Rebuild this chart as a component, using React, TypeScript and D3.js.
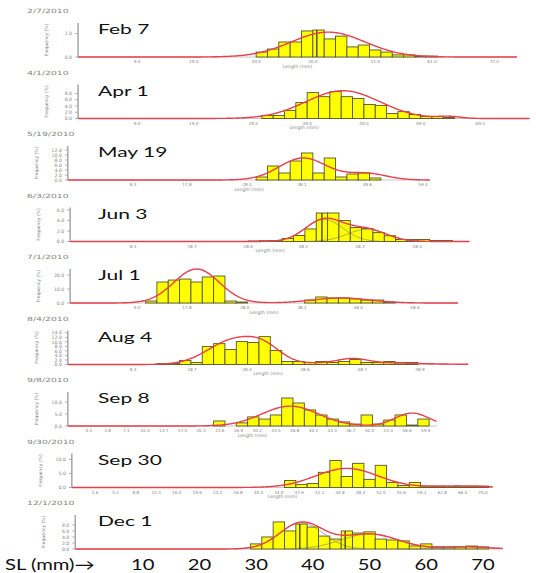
import React from "react";
import * as d3 from "d3";

// ---------- data ----------
const dateLabels = ["2/7/2010", "4/1/2010", "5/19/2010", "6/3/2010", "7/1/2010", "8/4/2010", "9/8/2010", "9/30/2010", "12/1/2010"];
const panelLabels = ["Feb 7", "Apr 1", "May 19", "Jun 3", "Jul 1", "Aug 4", "Sep 8", "Sep 30", "Dec 1"];

// first bin (mm) of each histogram, 2 mm bins
const binStart = [30, 31, 30, 28.6, 10.5, 12.5, 22.5, 35, 29];

const freqFeb7 = [0.21, 0.34, 0.64, 0.64, 1.11, 1.15, 0.77, 0.89, 0.43, 0.51, 0.3, 0.21, 0.09, 0.09, 0.04, 0.04];
const freqApr1 = [1.0, 1.0, 2.6, 5.1, 8.3, 7.0, 8.6, 7.0, 6.4, 4.5, 4.2, 1.6, 2.2, 1.3, 0.6, 0.6, 0.3];
const freqMay19 = [1.2, 5.6, 2.8, 7.6, 10.8, 2.8, 8.8, 1.2, 2.4, 2.8, 0.8];
const freqJun3 = [0.1, 0.15, 0.19, 0.57, 1.14, 2.4, 5.45, 5.45, 4.0, 2.66, 2.5, 1.7, 1.1, 0.4, 0.38, 0.38, 0.2, 0.2];
const freqJul1 = [1.4, 15, 16.4, 17.1, 15, 18.6, 19.3, 1.4, 0.7, 0, 0, 0, 0, 0, 2.1, 4.3, 3.6, 3.6, 2.9, 2.1, 2.1, 0.7];
const freqAug4 = [0.4, 0.4, 1.8, 0.9, 7.9, 9.2, 6.6, 10.1, 9.7, 12.3, 6.2, 1.3, 1.3, 0.9, 1.3, 0.9, 1.3, 2.2, 0.9, 0.9, 1.3, 0.9, 0.9];
const freqSep8 = [2.1, 0, 1.3, 3.8, 2.9, 4.6, 11.7, 9.6, 6.7, 4.6, 2.9, 1.7, 0.8, 4.6, 0.8, 2.5, 4.6, 0.4, 2.9];
const freqSep30 = [2.5, 1.1, 1.4, 5.4, 9.6, 3.9, 8.6, 2.9, 7.9, 1.8, 0.7, 1.8, 0.5, 0.5, 0.5, 0.5, 0.5, 0.5];
const freqDec1 = [1.7, 4, 9, 6, 8.3, 7.3, 4.3, 3.3, 6, 5.3, 5.7, 3.3, 3, 2.7, 1, 1.7, 0.7, 0.7, 0.7, 1, 0.7];

// fitted normal components: [mean mm, sd mm, height]
const fitFeb7 = [[42.7, 6.5, 1.06]];
const fitApr1 = [[45.3, 6.5, 8.9], [64, 2, 0.6]];
const fitMay19 = [[38.3, 4.2, 8.8], [49.5, 3.5, 2.6]];
const fitJun3 = [[42, 3.3, 4.2], [49.5, 3.5, 2.3]];
const fitJul1 = [[19.5, 4, 24.3], [45, 5, 3.6]];
const fitAug4 = [[26, 4.5, 10.6], [31.5, 3, 5.3], [47, 2.5, 1.8], [48, 9, 0.9]];
const fitSep8 = [[36, 5, 8.3], [57.5, 3, 5.4]];
const fitSep30 = [[46, 5.5, 6.8], [66, 5, 0.5]];
const fitDec1 = [[38, 3.8, 8.7], [50, 5, 5], [67, 4, 0.7]];

// mean markers: [mm, height]
const meanFeb7 = [[40.7, 1.15]];
const meanJun3 = [[41.6, 5.45]];
const meanDec1 = [[37.7, 8.3], [45.7, 6]];

// axis extents (mm) of each panel
const xMinMM = [-1.4, -1.4, -3.2, -2.8, -2.8, -3.2, -3.2, -2.5, -1.9];
const xMaxMM = [76, 78.3, 60.7, 67.7, 65.6, 67.4, 61.9, 71.8, 73.5];
const yMaxVal = [1.45, 10.9, 13.6, 6.5, 24.3, 15, 14.2, 12.1, 11.3];

const yTicksAll = [
  [0, 1], [0, 2, 4, 6, 8], [0, 2, 4, 6, 8, 10, 12], [0, 2, 4, 6], [0, 10, 20],
  [0, 2, 4, 6, 8, 10, 12, 14], [0, 5, 10], [0, 5, 10], [0, 2, 4, 6, 8],
];
const xTicksAll = [
  [9, 19, 30, 40, 51, 61, 72],
  [9, 19, 29.5, 39, 49, 59, 69.5],
  [8.3, 17.8, 28.4, 38.1, 49.6, 59.4],
  [8.3, 18.7, 28.6, 38.3, 48.3, 58.4],
  [9, 17.8, 28, 38.1, 48, 58],
  [8.3, 18.7, 28.4, 38.6, 48.7, 58.9],
  [0.5, 3.8, 7.1, 10.4, 13.7, 17, 20.3, 23.6, 26.9, 30.2, 33.5, 36.8, 40.1, 43.4, 46.7, 50, 53.3, 56.6, 59.9],
  [1.6, 5.2, 8.8, 12.4, 16, 19.6, 23.2, 26.8, 30.4, 34, 37.6, 41.2, 44.8, 48.4, 52, 55.6, 59.2, 62.8, 66.4, 70],
  [],
];

const bottomTicks = [10, 20, 30, 40, 50, 60, 70];

const freqs = [freqFeb7, freqApr1, freqMay19, freqJun3, freqJul1, freqAug4, freqSep8, freqSep30, freqDec1];
const fits = [fitFeb7, fitApr1, fitMay19, fitJun3, fitJul1, fitAug4, fitSep8, fitSep30, fitDec1];
const means = [meanFeb7, [], [], meanJun3, [], [], [], [], meanDec1];
const showComponents = [false, false, false, true, false, false, false, false, true];

// ---------- layout ----------
const W = 536;
const H = 573;
const PH = 34;
const BIN = 2;
const xMM = d3.scaleLinear().domain([0, 70]).range([86, 483]);
const baseY = (i: number) => 57 + 61.5 * i;

function mix(comps: number[][], v: number) {
  return d3.sum(comps, (c) => c[2] * Math.exp(-0.5 * ((v - c[0]) / c[1]) ** 2));
}

const TINY = "DejaVu Sans, sans-serif";
const TXT = "#858585";

export default function App() {
  return (
    <svg width={W} height={H} style={{ position: "absolute", left: 0, top: 0 }}>
      <rect width={W} height={H} fill="#fff" />
      {panelLabels.map((lab, i) => {
        const y = d3.scaleLinear().domain([0, yMaxVal[i]]).range([PH, 0]);
        const x0 = xMM(xMinMM[i]);
        const x1 = xMM(xMaxMM[i]);
        const xs = d3.range(xMinMM[i], xMaxMM[i] + 0.001, 0.2);
        const line = d3.line<number>().x((v) => xMM(v)).y((v) => y(mix(fits[i], v)));
        const compLines = showComponents[i] ? fits[i] : [];
        return (
          <g key={i} transform={`translate(0,${baseY(i) - PH})`}>
            <text transform={`translate(27,${PH - 44}) scale(1.6,1)`} fontFamily={TINY} fontSize={5.8} fill={TXT}>
              {dateLabels[i]}
            </text>
            <text
              transform={`translate(${x0 - 30},${PH / 2}) rotate(-90)`}
              textAnchor="middle"
              fontFamily={TINY}
              fontSize={4.5}
              fill={TXT}
            >
              Frequency (%)
            </text>
            <line x1={x0} x2={x0} y1={0} y2={PH} stroke="#a0a0a0" strokeWidth={1.4} />
            {yTicksAll[i].map((t) => (
              <g key={t}>
                <line x1={x0 - 3} x2={x0} y1={y(t)} y2={y(t)} stroke="#a0a0a0" strokeWidth={0.8} />
                <text x={x0 - 6} y={y(t) + 1.7} textAnchor="end" fontFamily={TINY} fontSize={4.6} fill={TXT}>
                  {t.toFixed(1)}
                </text>
              </g>
            ))}
            <line x1={x0} x2={x1} y1={PH} y2={PH} stroke="#c8c8c8" strokeWidth={1} />
            {freqs[i].map((v, j) =>
              v > 0 ? (
                <rect
                  key={j}
                  x={xMM(binStart[i] + j * BIN)}
                  width={xMM(binStart[i] + (j + 1) * BIN) - xMM(binStart[i] + j * BIN)}
                  y={y(v)}
                  height={PH - y(v)}
                  fill="#ffff00"
                  stroke="#55552a"
                  strokeWidth={0.9}
                />
              ) : null
            )}
            {compLines.map((c, k) => (
              <path
                key={k}
                d={
                  d3.line<number>().x((v) => xMM(v)).y((v) => y(mix([c], v)))(
                    d3.range(Math.max(xMinMM[i], c[0] - 3 * c[1]), Math.min(xMaxMM[i], c[0] + 3 * c[1]), 0.2)
                  ) || ""
                }
                fill="none"
                stroke="#7a7a6a"
                strokeWidth={0.6}
              />
            ))}
            {means[i].map((m, k) => (
              <line key={k} x1={xMM(m[0])} x2={xMM(m[0])} y1={PH} y2={y(m[1])} stroke="#3a3a20" strokeWidth={1.3} />
            ))}
            <path d={line(xs) || ""} fill="none" stroke="#e8404c" strokeWidth={1.4} />
            {xTicksAll[i].map((t) => (
              <text key={t} x={xMM(t)} y={PH + 6} textAnchor="middle" fontFamily={TINY} fontSize={4.2} fill={TXT}>
                {t.toFixed(1)}
              </text>
            ))}
            {i < 8 ? (
              <text x={(x0 + x1) / 2} y={PH + 10.5} textAnchor="middle" fontFamily={TINY} fontSize={4.5} fill={TXT}>
                Length (mm)
              </text>
            ) : null}
            <text
              transform={`translate(98,${PH - 23}) scale(1.5,1)`}
              fontFamily="Lato, sans-serif"
              fontSize={14}
              fill="#111"
            >
              {lab}
            </text>
          </g>
        );
      })}
      <text transform={`translate(5,570) scale(1.35,1)`} fontFamily="Lato, sans-serif" fontSize={15} fill="#111">
        SL (mm)→
      </text>
      {bottomTicks.map((t) => (
        <text
          key={t}
          transform={`translate(${xMM(t)},570) scale(1.35,1)`}
          textAnchor="middle"
          fontFamily="Lato, sans-serif"
          fontSize={15}
          fill="#111"
        >
          {t}
        </text>
      ))}
    </svg>
  );
}
